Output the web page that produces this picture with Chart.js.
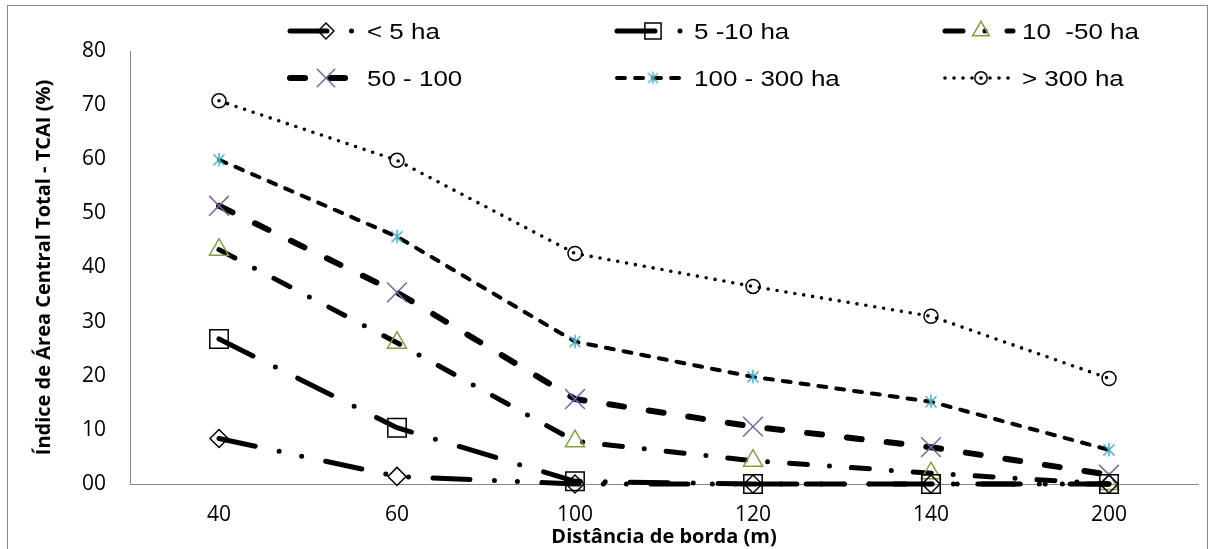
<!DOCTYPE html>
<html>
<head>
<meta charset="utf-8">
<script src="https://cdn.jsdelivr.net/npm/chart.js@4/dist/chart.umd.min.js"></script>
<style>
  body { margin: 0; background: #fff; }
  #wrap { width: 1216px; height: 549px; }
</style>
</head>
<body>
<div id="wrap"><canvas id="tcaiChart" width="1216" height="549"></canvas></div>
<script>
// Data
const distances = ['40', '60', '100', '120', '140', '200'];
const seriesNames = ['< 5 ha', '5 -10 ha', '10  -50 ha', '50 - 100', '100 - 300 ha', '> 300 ha'];
const lt5 = [8.4, 1.4, 0, 0, 0, 0];
const ha5to10 = [26.8, 10.4, 0.5, 0, 0, 0];
const ha10to50 = [43.3, 26.1, 7.9, 4.3, 2.0, 0];
const ha50to100 = [51.4, 35.4, 15.7, 10.6, 6.8, 1.7];
const ha100to300 = [59.9, 45.7, 26.3, 19.8, 15.2, 6.3];
const gt300 = [70.8, 59.8, 42.6, 36.5, 31.0, 19.5];
const yTicks = [0, 10, 20, 30, 40, 50, 60, 70, 80];

// asterisk marker (vertical bar + X), like the spreadsheet "star" marker
function makeAsterisk(color, size) {
    const c = document.createElement('canvas');
    c.width = size; c.height = size;
    const g = c.getContext('2d');
    const m = size / 2, e = size - 1.5;
    g.strokeStyle = color;
    g.lineWidth = 1.5;
    g.beginPath();
    g.moveTo(m, 1); g.lineTo(m, e);
    g.moveTo(2.5, 2.5); g.lineTo(e - 1, e - 1);
    g.moveTo(e - 1, 2.5); g.lineTo(2.5, e - 1);
    g.stroke();
    return c;
}

function series(label, data, dash, width, marker, radius, markerColor) {
    return {
        label: label,
        data: data,
        borderColor: '#000',
        borderWidth: width,
        borderDash: dash,
        borderCapStyle: 'round',
        borderJoinStyle: 'round',
        tension: 0,
        fill: false,
        clip: false,
        pointStyle: marker,
        pointRadius: radius,
        pointBorderColor: markerColor,
        pointBackgroundColor: 'rgba(0,0,0,0)',
        pointBorderWidth: 1.5
    };
}

const datasets = [
    series(seriesNames[0], lt5, [37, 24.5, 0, 23, 0, 24.5], 5, 'rectRot', 9, '#000'),
    series(seriesNames[1], ha5to10, [38, 25, 0, 25], 5, 'rect', 13, '#000'),
    series(seriesNames[2], ha10to50, [18, 22, 0, 22], 5, 'triangle', 11, '#7F9F45'),
    series(seriesNames[3], ha50to100, [15, 25], 6, 'crossRot', 14, '#7F63A1'),
    series(seriesNames[4], ha100to300, [8, 10], 4, makeAsterisk('#4BACC6', 16), 8, '#4BACC6'),
    series(seriesNames[5], gt300, [0, 9], 3.6, 'circle', 7, '#000')
];
const legendStars = makeAsterisk('#4BACC6', 15);

// outer chart border
const frame = {
    id: 'frame',
    beforeDraw(chart) {
        const ctx = chart.ctx;
        ctx.save();
        ctx.fillStyle = '#fff';
        ctx.fillRect(0, 0, chart.width, chart.height);
        ctx.strokeStyle = '#868686';
        ctx.lineWidth = 1;
        ctx.strokeRect(7.5, 5.5, 1200, 600);
        ctx.restore();
    }
};

// legend in a 3 x 2 grid with line sample + marker
const gridLegend = {
    id: 'gridLegend',
    afterDraw(chart) {
        const ctx = chart.ctx;
        const cols = [290, 617, 945];
        const rows = [31, 78];
        chart.data.datasets.forEach((ds, i) => {
            const x0 = cols[i % 3];
            const y = rows[Math.floor(i / 3)];
            ctx.save();
            ctx.strokeStyle = ds.borderColor;
            ctx.lineWidth = ds.borderWidth;
            ctx.lineCap = 'round';
            ctx.setLineDash(ds.borderDash);
            ctx.beginPath();
            ctx.moveTo(x0, y);
            ctx.lineTo(x0 + 68, y);
            ctx.stroke();
            ctx.setLineDash([]);
            ctx.strokeStyle = ds.pointBorderColor;
            ctx.fillStyle = 'rgba(0,0,0,0)';
            ctx.lineWidth = ds.pointBorderWidth;
            Chart.helpers.drawPoint(ctx, {
                pointStyle: typeof ds.pointStyle === 'string' ? ds.pointStyle : legendStars,
                radius: ds.pointRadius * 0.88,
                rotation: 0,
                borderWidth: ds.pointBorderWidth
            }, x0 + 36, y);
            ctx.translate(x0 + 77, y + 8);
            ctx.scale(1.18, 1);
            ctx.fillStyle = '#000';
            ctx.font = '22px "Liberation Sans", Arial, sans-serif';
            ctx.textBaseline = 'alphabetic';
            ctx.fillText(ds.label, 0, 0);
            ctx.restore();
        });
    }
};

new Chart(document.getElementById('tcaiChart'), {
    type: 'line',
    data: {
        labels: distances,
        datasets: datasets
    },
    options: {
        responsive: false,
        animation: false,
        layout: {
            padding: { top: 51, right: 18, left: 0, bottom: 0 }
        },
        plugins: {
            legend: { display: false },
            tooltip: { enabled: false }
        },
        scales: {
            x: {
                offset: true,
                grid: { display: false, drawTicks: false },
                border: { display: true, color: '#868686', width: 1 },
                ticks: {
                    color: '#000',
                    padding: 18,
                    font: { family: '"Open Sans", sans-serif', size: 21 }
                },
                title: {
                    display: true,
                    text: 'Distância de borda (m)',
                    color: '#000',
                    padding: { top: 0, bottom: 0 },
                    font: { family: '"Open Sans", sans-serif', size: 20, weight: 'bold' }
                },
                afterFit(scale) { scale.height = 65; }
            },
            y: {
                min: 0,
                max: 80,
                afterBuildTicks(scale) {
                    scale.ticks = yTicks.map(v => ({ value: v }));
                },
                grid: { display: false, drawTicks: false },
                border: { display: true, color: '#868686', width: 1 },
                ticks: {
                    color: '#000',
                    padding: 24,
                    font: { family: '"Open Sans", sans-serif', size: 21 },
                    callback: v => String(v).padStart(2, '0')
                },
                title: {
                    display: true,
                    text: 'Índice de Área Central Total - TCAI (%)',
                    color: '#000',
                    padding: { top: 32, bottom: 0 },
                    font: { family: '"Open Sans", sans-serif', size: 20, weight: 'bold' }
                },
                afterFit(scale) { scale.width = 130; }
            }
        }
    },
    plugins: [frame, gridLegend]
});
</script>
</body>
</html>
